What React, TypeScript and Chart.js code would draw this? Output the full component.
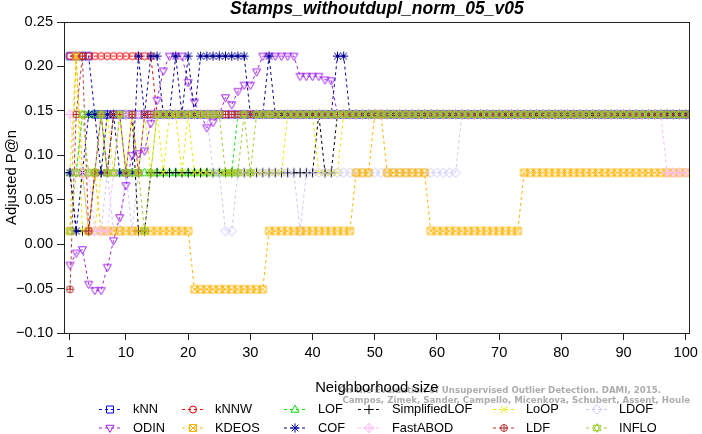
import { useEffect, useRef } from "react";
import { Chart, registerables } from "chart.js";

Chart.register(...registerables);

// Adjusted P@n levels
const A = 0.2116;
const B = 0.146;
const C = 0.0804;
const D = 0.0148;
const E = -0.0508;

const neighborhoodSizes = [
  1, 2, 3, 4, 5, 6, 7, 8, 9, 10,
  11, 12, 13, 14, 15, 16, 17, 18, 19, 20,
  21, 22, 23, 24, 25, 26, 27, 28, 29, 30,
  31, 32, 33, 34, 35, 36, 37, 38, 39, 40,
  41, 42, 43, 44, 45, 46, 47, 48, 49, 50,
  51, 52, 53, 54, 55, 56, 57, 58, 59, 60,
  61, 62, 63, 64, 65, 66, 67, 68, 69, 70,
  71, 72, 73, 74, 75, 76, 77, 78, 79, 80,
  81, 82, 83, 84, 85, 86, 87, 88, 89, 90,
  91, 92, 93, 94, 95, 96, 97, 98, 99, 100,
];

const xTickValues = [1, 10, 20, 30, 40, 50, 60, 70, 80, 90, 100];
const yTickValues = [-0.1, -0.05, 0, 0.05, 0.1, 0.15, 0.2, 0.25];

const knn = [
  A, A, A, A, B, B, B, B, B, B,
  B, B, B, B, B, B, B, B, B, B,
  B, B, B, B, B, B, B, B, B, B,
  B, B, B, B, B, B, B, B, B, B,
  B, B, B, B, B, B, B, B, B, B,
  B, B, B, B, B, B, B, B, B, B,
  B, B, B, B, B, B, B, B, B, B,
  B, B, B, B, B, B, B, B, B, B,
  B, B, B, B, B, B, B, B, B, B,
  B, B, B, B, B, B, B, B, B, B,
];
const knnw = [
  A, A, A, A, A, A, A, A, A, A,
  A, A, A, A, B, B, B, B, B, B,
  B, B, B, B, B, B, B, B, B, B,
  B, B, B, B, B, B, B, B, B, B,
  B, B, B, B, B, B, B, B, B, B,
  B, B, B, B, B, B, B, B, B, B,
  B, B, B, B, B, B, B, B, B, B,
  B, B, B, B, B, B, B, B, B, B,
  B, B, B, B, B, B, B, B, B, B,
  B, B, B, B, B, B, B, B, B, B,
];
const lof = [
  C, C, B, B, B, B, C, C, C, C,
  C, C, C, C, C, C, C, C, C, C,
  C, C, C, C, C, C, C, B, B, B,
  B, B, B, B, B, B, B, B, B, B,
  B, B, B, B, B, B, B, B, B, B,
  B, B, B, B, B, B, B, B, B, B,
  B, B, B, B, B, B, B, B, B, B,
  B, B, B, B, B, B, B, B, B, B,
  B, B, B, B, B, B, B, B, B, B,
  B, B, B, B, B, B, B, B, B, B,
];
const simplifiedLof = [
  C, D, D, D, C, C, C, B, B, B,
  B, D, D, C, C, C, C, C, C, C,
  C, C, C, C, C, C, C, C, C, C,
  C, C, C, C, C, C, C, C, C, C,
  B, C, C, B, B, B, B, B, B, B,
  B, B, B, B, B, B, B, B, B, B,
  B, B, B, B, B, B, B, B, B, B,
  B, B, B, B, B, B, B, B, B, B,
  B, B, B, B, B, B, B, B, B, B,
  B, B, B, B, B, B, B, B, B, B,
];
const loop = [
  C, A, D, D, D, C, B, C, B, C,
  B, C, B, C, B, C, B, B, C, B,
  C, C, C, C, C, C, C, C, C, C,
  C, C, C, C, C, B, B, B, B, B,
  C, C, C, C, B, B, B, B, B, B,
  B, B, B, B, B, B, B, B, B, B,
  B, B, B, B, B, B, B, B, B, B,
  B, B, B, B, B, B, B, B, B, B,
  B, B, B, B, B, B, B, B, B, B,
  B, B, B, B, B, B, B, B, B, B,
];
const ldof = [
  C, C, C, D, D, D, C, D, D, C,
  D, C, B, B, B, B, B, B, B, B,
  B, B, B, C, C, D, D, C, C, C,
  C, C, C, C, C, C, C, D, C, C,
  C, C, C, C, C, C, C, C, C, C,
  C, C, C, C, C, C, C, C, C, C,
  C, C, C, B, B, B, B, B, B, B,
  B, B, B, B, B, B, B, B, B, B,
  B, B, B, B, B, B, B, B, B, B,
  B, B, B, B, B, B, B, B, B, B,
];
const odin = [
  -0.0235, -0.01, -0.006, -0.045, -0.052, -0.052, -0.026, 0.004, 0.03, 0.066,
  0.1, 0.102, 0.105, 0.136, 0.162, 0.195, A, A, A, 0.182,
  0.16, B, 0.131, 0.137, B, 0.165, 0.157, 0.172, 0.179, 0.179,
  0.194, A, A, A, A, A, A, 0.189, 0.189, 0.189,
  0.189, 0.185, 0.184, B, B, B, B, B, B, B,
  B, B, B, B, B, B, B, B, B, B,
  B, B, B, B, B, B, B, B, B, B,
  B, B, B, B, B, B, B, B, B, B,
  B, B, B, B, B, B, B, B, B, B,
  B, B, B, B, B, B, B, B, B, B,
];
const kdeos = [
  D, A, C, D, C, D, D, D, D, D,
  D, D, D, D, D, D, D, D, D, D,
  E, E, E, E, E, E, E, E, E, E,
  E, E, D, D, D, D, D, D, D, D,
  D, D, D, D, D, D, C, C, C, B,
  B, C, C, C, C, C, C, C, D, D,
  D, D, D, D, D, D, D, D, D, D,
  D, D, D, C, C, C, C, C, C, C,
  C, C, C, C, C, C, C, C, C, C,
  C, C, C, C, C, C, C, C, C, C,
];
const cof = [
  C, D, C, B, B, C, B, B, C, C,
  C, A, B, A, A, B, B, A, B, A,
  B, A, A, A, A, A, A, A, A, B,
  B, B, A, B, B, B, B, B, B, B,
  B, B, B, A, A, B, B, B, B, B,
  B, B, B, B, B, B, B, B, B, B,
  B, B, B, B, B, B, B, B, B, B,
  B, B, B, B, B, B, B, B, B, B,
  B, B, B, B, B, B, B, B, B, B,
  B, B, B, B, B, B, B, B, B, B,
];
const fastAbod = [
  B, C, C, C, D, D, D, C, B, B,
  B, B, B, B, B, B, B, B, B, B,
  B, B, B, B, B, B, B, B, B, B,
  B, B, B, B, B, B, B, B, B, B,
  B, B, B, B, B, B, B, B, B, B,
  B, B, B, B, B, B, B, B, B, B,
  B, B, B, B, B, B, B, B, B, B,
  B, B, B, B, B, B, B, B, B, B,
  B, B, B, B, B, B, B, B, B, B,
  B, B, B, B, B, B, C, C, C, C,
];
const ldf = [
  E, B, A, D, C, B, C, B, B, C,
  B, C, B, B, B, B, B, B, B, B,
  B, B, B, B, B, B, B, B, B, B,
  B, B, B, B, B, B, B, B, B, B,
  B, B, B, B, B, B, B, B, B, B,
  B, B, B, B, B, B, B, B, B, B,
  B, B, B, B, B, B, B, B, B, B,
  B, B, B, B, B, B, B, B, B, B,
  B, B, B, B, B, B, B, B, B, B,
  B, B, B, B, B, B, B, B, B, B,
];
const inflo = [
  D, C, B, C, C, B, C, C, B, C,
  C, C, D, C, B, B, B, B, B, B,
  B, B, B, B, B, C, C, C, B, C,
  B, B, B, B, B, B, B, B, B, B,
  B, B, B, B, B, B, B, B, B, B,
  B, B, B, B, B, B, B, B, B, B,
  B, B, B, B, B, B, B, B, B, B,
  B, B, B, B, B, B, B, B, B, B,
  B, B, B, B, B, B, B, B, B, B,
  B, B, B, B, B, B, B, B, B, B,
];

const seriesNames = [
  "kNN", "kNNW", "LOF", "SimplifiedLOF", "LoOP", "LDOF",
  "ODIN", "KDEOS", "COF", "FastABOD", "LDF", "INFLO",
];
const seriesValues = [knn, knnw, lof, simplifiedLof, loop, ldof, odin, kdeos, cof, fastAbod, ldf, inflo];
const seriesColors = [
  "#0000FF", "#FF0000", "#00E600", "#000000", "#E8E800", "#C8C8FF",
  "#A020F0", "#FFB300", "#000099", "#FFBBF5", "#B83232", "#9ACD32",
];
const seriesShapes = [
  "square", "circle", "triUp", "plus", "cross", "diamond",
  "triDown", "squareX", "asterisk", "diamondPlus", "circlePlus", "sextile",
];

const FONT = '"Liberation Sans", Arial, Helvetica, sans-serif';
const TITLE = "Stamps_withoutdupl_norm_05_v05";
const X_TITLE = "Neighborhood size";
const Y_TITLE = "Adjusted P@n";
const WATERMARK_1 = "On the Evaluation of Unsupervised Outlier Detection. DAMI, 2015.";
const WATERMARK_2 = "Campos, Zimek, Sander, Campello, Micenkova, Schubert, Assent, Houle";

function drawMarker(ctx: CanvasRenderingContext2D, shape: string, color: string, x: number, y: number) {
  const s = 3.5;
  ctx.save();
  ctx.strokeStyle = color;
  ctx.lineWidth = 1;
  ctx.setLineDash([]);
  ctx.beginPath();
  const tri = (dir: number) => {
    const h = s * 1.25;
    ctx.moveTo(x, y - dir * h);
    ctx.lineTo(x + s * 1.15, y + dir * h * 0.62);
    ctx.lineTo(x - s * 1.15, y + dir * h * 0.62);
    ctx.closePath();
  };
  const plus = (r: number) => {
    ctx.moveTo(x - r, y);
    ctx.lineTo(x + r, y);
    ctx.moveTo(x, y - r);
    ctx.lineTo(x, y + r);
  };
  const cross = (r: number) => {
    ctx.moveTo(x - r, y - r);
    ctx.lineTo(x + r, y + r);
    ctx.moveTo(x + r, y - r);
    ctx.lineTo(x - r, y + r);
  };
  const diamond = (r: number) => {
    ctx.moveTo(x, y - r);
    ctx.lineTo(x + r, y);
    ctx.lineTo(x, y + r);
    ctx.lineTo(x - r, y);
    ctx.closePath();
  };
  switch (shape) {
    case "square":
      ctx.rect(x - s, y - s, 2 * s, 2 * s);
      break;
    case "circle":
      ctx.arc(x, y, s, 0, Math.PI * 2);
      break;
    case "triUp":
      tri(1);
      break;
    case "triDown":
      tri(-1);
      break;
    case "plus":
      plus(s * 1.35);
      break;
    case "cross":
      cross(s);
      break;
    case "diamond":
      diamond(s * 1.35);
      break;
    case "squareX":
      ctx.rect(x - s, y - s, 2 * s, 2 * s);
      cross(s);
      break;
    case "asterisk":
      plus(s * 1.3);
      cross(s * 0.95);
      break;
    case "diamondPlus":
      diamond(s * 1.35);
      plus(s * 1.35);
      break;
    case "circlePlus":
      ctx.arc(x, y, s, 0, Math.PI * 2);
      plus(s);
      break;
    case "sextile":
      tri(1);
      tri(-1);
      break;
  }
  ctx.stroke();
  ctx.restore();
}

function makeMarker(shape: string, color: string): HTMLCanvasElement {
  const c = document.createElement("canvas");
  c.width = 15;
  c.height = 15;
  const ctx = c.getContext("2d")!;
  drawMarker(ctx, shape, color, 7.5, 7.5);
  return c;
}

const legendSymbolX = [110, 193, 295, 369, 504, 597];
const legendTextX = [133, 215, 318, 392, 526, 619];
const legendRowY = [409.5, 428];

const decorPlugin = {
  id: "decor",
  beforeDraw(chart: any) {
    const ctx: CanvasRenderingContext2D = chart.ctx;
    ctx.save();
    ctx.fillStyle = "#ADADAD";
    ctx.font = `bold 10px "DejaVu Sans", sans-serif`;
    const w = ctx.measureText(WATERMARK_2).width;
    const size = (10 * 348) / w;
    ctx.font = `bold ${size}px "DejaVu Sans", sans-serif`;
    ctx.textAlign = "right";
    ctx.textBaseline = "alphabetic";
    ctx.fillText(WATERMARK_1, 661, 393);
    ctx.fillText(WATERMARK_2, 690, 403);
    ctx.restore();
  },
  afterDraw(chart: any) {
    const ctx: CanvasRenderingContext2D = chart.ctx;
    const area = chart.chartArea;
    ctx.save();
    // plot box
    ctx.strokeStyle = "#222222";
    ctx.lineWidth = 1;
    ctx.strokeRect(Math.round(area.left) + 0.5, Math.round(area.top) + 0.5, Math.round(area.right - area.left) - 1, Math.round(area.bottom - area.top));
    // title
    ctx.fillStyle = "#000";
    ctx.font = `bold italic 17.5px ${FONT}`;
    ctx.textAlign = "center";
    ctx.textBaseline = "alphabetic";
    ctx.fillText(TITLE, (area.left + area.right) / 2, 14);
    // axis titles
    ctx.font = `14.8px ${FONT}`;
    ctx.fillText(X_TITLE, (area.left + area.right) / 2, 392);
    ctx.save();
    ctx.translate(15.5, (area.top + area.bottom) / 2);
    ctx.rotate(-Math.PI / 2);
    ctx.fillText(Y_TITLE, 0, 0);
    ctx.restore();
    // legend
    ctx.font = `12.8px ${FONT}`;
    ctx.textAlign = "left";
    ctx.textBaseline = "middle";
    for (let i = 0; i < seriesNames.length; i++) {
      const col = i % 6;
      const row = Math.floor(i / 6);
      const cx = legendSymbolX[col];
      const cy = legendRowY[row];
      ctx.save();
      ctx.strokeStyle = seriesColors[i];
      ctx.lineWidth = 1;
      ctx.setLineDash([3, 3]);
      ctx.beginPath();
      ctx.moveTo(cx - 11, cy);
      ctx.lineTo(cx + 12, cy);
      ctx.stroke();
      ctx.restore();
      drawMarker(ctx, seriesShapes[i], seriesColors[i], cx, cy);
      ctx.fillStyle = "#000";
      ctx.fillText(seriesNames[i], legendTextX[col], cy);
    }
    ctx.restore();
  },
};

export default function App() {
  const ref = useRef<HTMLCanvasElement>(null);
  useEffect(() => {
    document.body.style.margin = "0";
    const canvas = ref.current!;
    const n = seriesNames.length;
    const datasets = seriesNames.map((name, i) => ({
      label: name,
      data: seriesValues[i],
      borderColor: seriesColors[i],
      backgroundColor: seriesColors[i],
      borderWidth: 1,
      borderDash: [3, 3],
      pointStyle: makeMarker(seriesShapes[i], seriesColors[i]),
      pointRadius: 4,
      pointHoverRadius: 4,
      tension: 0,
      fill: false,
      order: n - 1 - i,
    }));
    const chart = new Chart(canvas, {
      type: "line",
      data: { labels: neighborhoodSizes, datasets },
      plugins: [decorPlugin],
      options: {
        responsive: false,
        animation: false,
        events: [],
        layout: { padding: { left: 0, right: 8, top: 22, bottom: 0 } },
        plugins: {
          legend: { display: false },
          title: { display: false },
          tooltip: { enabled: false },
        },
        scales: {
          x: {
            type: "linear",
            min: 0.04,
            max: 100.64,
            afterFit: (scale: any) => {
              scale.height = 101;
            },
            afterBuildTicks: (scale: any) => {
              scale.ticks = xTickValues.map((v) => ({ value: v }));
            },
            grid: { drawOnChartArea: false, drawTicks: true, tickLength: 7, color: "#222222" },
            border: { display: true, color: "#222222", width: 1 },
            ticks: {
              autoSkip: false,
              maxRotation: 0,
              padding: 4,
              color: "#000",
              font: { family: FONT, size: 14.6 },
              callback: (v: any) => String(v),
            },
          },
          y: {
            type: "linear",
            min: -0.1,
            max: 0.25,
            afterFit: (scale: any) => {
              scale.width = 64;
            },
            afterBuildTicks: (scale: any) => {
              scale.ticks = yTickValues.map((v) => ({ value: v }));
            },
            grid: { drawOnChartArea: false, drawTicks: true, tickLength: 7, color: "#222222" },
            border: { display: true, color: "#222222", width: 1 },
            ticks: {
              autoSkip: false,
              padding: 4,
              color: "#000",
              font: { family: FONT, size: 14.6 },
              callback: (v: any) => Number(v).toFixed(2).replace("-", "\u2212"),
            },
          },
        },
      } as any,
    });
    return () => chart.destroy();
  }, []);
  return (
    <div style={{ width: 702, height: 434, position: "relative" }}>
      <canvas ref={ref} width={702} height={434} style={{ display: "block", width: 702, height: 434 }} />
    </div>
  );
}
